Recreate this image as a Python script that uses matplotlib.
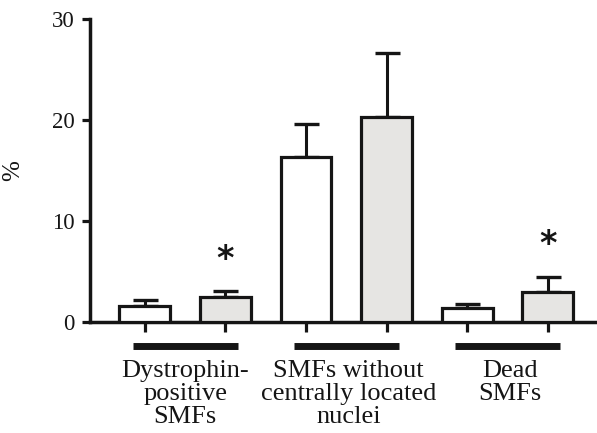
import numpy as np
import matplotlib
matplotlib.use("Agg")
import matplotlib.pyplot as plt

# bar heights (%) and upper SEM
groups = ["Dystrophin-\npositive\nSMFs",
          "SMFs without\ncentrally located\nnuclei",
          "Dead\nSMFs"]
means = [1.6, 2.5, 16.3, 20.3, 1.4, 3.0]
errs = [0.6, 0.6, 3.3, 6.3, 0.35, 1.5]
fills = ["white", "#e6e5e3", "white", "#e6e5e3", "white", "#e6e5e3"]
stars = {1: 6.2, 5: 7.7}   # bar index -> y of asterisk

dark = "#151515"
plt.rcParams["font.family"] = ["Liberation Serif", "DejaVu Serif"]

fig = plt.figure(figsize=(5.97, 4.33), dpi=100)
ax = fig.add_axes([90/597, 1 - 322/433, 1 - 90/597, (322 - 19)/433])

x = np.arange(len(means))
ax.bar(x, means, width=0.63, color=fills, edgecolor=dark, linewidth=2.3, zorder=3)
ax.errorbar(x, means, yerr=[np.zeros(len(errs)), errs], fmt="none",
            ecolor=dark, elinewidth=2.2, capsize=9, capthick=2.4, zorder=2)

for i, y in stars.items():
    ax.text(i, y, "*", ha="center", va="center", fontsize=24,
            fontweight="bold", family="DejaVu Sans", color=dark)

# thick lines and labels under each pair
for g, lab in enumerate(groups):
    x0, x1 = 2*g - 0.15, 2*g + 1 + 0.15
    ax.plot([x0, x1], [-2.4, -2.4], color=dark, lw=5, solid_capstyle="butt",
            clip_on=False)
    ax.text(2*g + 0.5 + (0.03 if g else 0), -3.8, lab, ha="center", va="top",
            fontsize=19, linespacing=1.06, color=dark, clip_on=False)

ax.set_xlim(-0.68, 5.61)
ax.set_ylim(0, 30)
ax.set_yticks([0, 10, 20, 30])
ax.set_xticks(x)
ax.set_xticklabels([])
ax.set_ylabel("%", fontsize=18, labelpad=20, color=dark)

for s in ["top", "right"]:
    ax.spines[s].set_visible(False)
for s in ["left", "bottom"]:
    ax.spines[s].set_linewidth(2.5)
    ax.spines[s].set_color(dark)
ax.tick_params(axis="y", length=6, width=2.3, pad=5, labelsize=16.5,
               colors=dark)
ax.tick_params(axis="x", length=7.5, width=2.3, colors=dark)

fig.savefig("out.png", dpi=100)
